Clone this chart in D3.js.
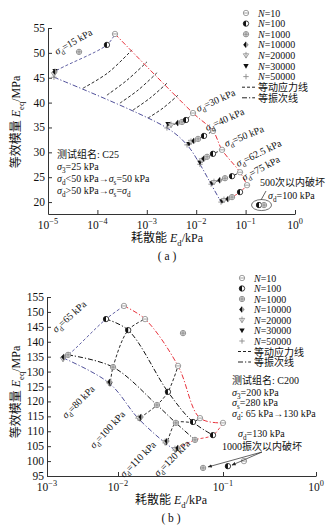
<!DOCTYPE html>
<html>
<head>
<meta charset="utf-8">
<script src="https://cdn.jsdelivr.net/npm/d3@7"></script>
<style>
  body { margin: 0; background: #fff; }
  svg text { font-family: "Liberation Serif", "Noto Sans CJK SC", serif; fill: #111; }
</style>
</head>
<body>
<script>
// vibration counts, one marker style per count
const nLevels = [10, 100, 1000, 10000, 20000, 30000, 50000];

// ---- (a) C25 : dissipated energy (kPa) and equivalent modulus (MPa), rows = sigma_d, cols = N
const aStress = ["15", "30", "40", "50", "62.5", "75"];
const aEd = [
  [2.27e-4, 1.56e-4, 4.25e-5, 1.39e-5, 1.32e-5, 1.39e-5, 1.32e-5],
  [8.62e-3, 6.22e-3, 5.16e-3, 4.28e-3, 3.09e-3, 2.69e-3, 2.56e-3],
  [2.19e-2, 1.44e-2, 1.09e-2, 9.02e-3, 7.85e-3, 7.15e-3, 6.52e-3],
  [3.33e-2, 2.19e-2, 1.66e-2, 1.44e-2, 1.31e-2, 1.19e-2, 1.19e-2],
  [7.71e-2, 5.31e-2, 3.83e-2, 3.03e-2, 2.29e-2, 2.09e-2, 2.00e-2],
  [0.107, 7.71e-2, 5.31e-2, 4.41e-2, 3.65e-2, 3.33e-2, 3.18e-2]
];
const aEeq = [
  [53.8, 51.6, 50.2, 46.2, 45.7, 46.4, 45.1],
  [37.9, 36.5, 36.1, 35.9, 35.5, 35.7, 34.9],
  [34.3, 33.3, 32.7, 32.3, 32.1, 31.7, 31.5],
  [30.5, 29.7, 29.1, 28.7, 28.4, 28.0, 27.6],
  [26.0, 25.2, 24.8, 24.4, 24.0, 23.8, 23.6],
  [23.4, 22.0, 21.0, 20.6, 20.4, 20.2, 20.0]
];
// points left off their equal-stress line: [row, col]
const aOffLine = [[0, 2]];
// intermediate equal-stress lines without test points
const aGuideEd = [
  [5.12e-5, 1.64e-4, 5.01e-4],
  [1.56e-4, 3.97e-4, 1.01e-3],
  [2.86e-4, 6.64e-4, 1.61e-3],
  [5.26e-4, 1.16e-3, 2.69e-3],
  [1.06e-3, 2.13e-3, 4.28e-3]
];
const aGuideEeq = [
  [42.9, 46.0, 50.6],
  [41.5, 44.5, 48.2],
  [39.9, 42.5, 46.0],
  [38.5, 40.9, 44.1],
  [36.9, 38.9, 41.5]
];
// sigma_d = 100 kPa, failed within 500 cycles
const aFailEd = [0.187, 0.236];
const aFailEeq = [19.4, 19.4];
const aFailN = [1, 2];
// equal-N lines drawn in (a)
const aNLines = [0, 6];

// ---- (b) C200
const bStress = ["65", "80", "100", "110", "120"];
const bEd = [
  [1.14e-2, 6.78e-3, 1.98e-3, 1.73e-3, 1.68e-3, 1.73e-3, 1.68e-3],
  [1.81e-2, 1.25e-2, 8.51e-3, 7.71e-3, 7.46e-3, 7.71e-3, 7.46e-3],
  [3.73e-2, 2.99e-2, 2.35e-2, 1.66e-2, 1.58e-2, 1.62e-2, 1.55e-2],
  [6.04e-2, 5.18e-2, 3.56e-2, 2.93e-2, 2.81e-2, 2.87e-2, 2.81e-2],
  [0.100, 8.03e-2, 5.41e-2, 3.73e-2, 3.49e-2, 3.56e-2, 3.49e-2]
];
const bEeq = [
  [152.0, 147.6, 135.6, 134.9, 134.2, 134.6, 134.6],
  [147.6, 143.9, 131.5, 126.5, 126.2, 125.8, 126.2],
  [131.9, 123.2, 118.8, 114.8, 114.4, 114.1, 114.4],
  [114.4, 113.1, 112.8, 106.7, 106.4, 106.1, 106.1],
  [112.8, 108.7, 107.1, 104.4, 104.0, 103.7, 103.7]
];
const bOffLine = [];
// sigma_d = 130 kPa, failed within 1000 cycles, plus one stray reading
const bFailEd = [6.46e-2, 0.113, 0.168];
const bFailEeq = [97.7, 98.3, 100.0];
const bFailN = [2, 1, 0];
const bStrayEd = [4.16e-2];
const bStrayEeq = [142.9];
const bNLines = [0, 1, 2, 6];

const W = 335, H = 529;
const svg = d3.select("body").append("svg").attr("width", W).attr("height", H);

const BLUE = "#50509a", RED = "#e8323c", GREY = "#8a8a8a";
const DASH = "3,2", DASHDOT = "5,2,1.2,2";

// text with italic / sub / sup pieces
function rich(text, parts, size) {
  let shift = 0;
  parts.forEach(p => {
    if (typeof p === "string") p = { t: p };
    const want = p.sub ? size * 0.3 : p.sup ? -size * 0.42 : 0;
    const ts = text.append("tspan").text(p.t).attr("dy", want - shift);
    shift = want;
    if (p.sub || p.sup) ts.attr("font-size", size * 0.72);
    if (p.it) ts.attr("font-style", "italic");
  });
  return text;
}
function label(g, x, y, parts, size, opts = {}) {
  const t = g.append("text").attr("x", x).attr("y", y).attr("font-size", size);
  if (opts.anchor) t.attr("text-anchor", opts.anchor);
  if (opts.rotate != null) t.attr("transform", `rotate(${opts.rotate},${x},${y})`);
  if (opts.bold) t.attr("font-weight", "bold");
  return rich(t, parts, size);
}

// marker for each vibration count
function marker(g, k, x, y) {
  const r = 2.7;
  const m = g.append("g").attr("transform", `translate(${x},${y})`);
  if (k === 0) {
    m.append("circle").attr("r", r).attr("fill", "#fff").attr("stroke", GREY).attr("stroke-width", 0.8);
    m.append("line").attr("x1", -r).attr("x2", r).attr("stroke", GREY).attr("stroke-width", 0.8);
  } else if (k === 1) {
    m.append("circle").attr("r", r).attr("fill", "#fff").attr("stroke", "#111").attr("stroke-width", 0.8);
    m.append("path").attr("d", `M0,${-r}A${r},${r} 0 0 0 0,${r}Z`).attr("fill", "#111");
  } else if (k === 2) {
    m.append("circle").attr("r", r).attr("fill", "#ddd").attr("stroke", GREY).attr("stroke-width", 0.8);
    m.append("path").attr("d", `M${-r},0H${r}M0,${-r}V${r}`).attr("stroke", "#777").attr("stroke-width", 0.7);
  } else if (k === 3) {
    m.append("path").attr("d", `M0,${-r - 0.5}L${r},0L0,${r + 0.5}L${-r},0Z`).attr("fill", "#999");
    m.append("path").attr("d", `M0,${-r - 0.5}L0,${r + 0.5}L${-r},0Z`).attr("fill", "#111");
  } else if (k === 4) {
    m.append("path").attr("d", `M${-r},${-r * 0.6}H${r}L0,${r}Z`).attr("fill", "#fff").attr("stroke", GREY).attr("stroke-width", 0.8);
    m.append("line").attr("y1", -r - 0.8).attr("y2", r).attr("stroke", GREY).attr("stroke-width", 0.8);
  } else if (k === 5) {
    m.append("path").attr("d", `M${-r},${-r * 0.7}H${r}L0,${r}Z`).attr("fill", "#111");
  } else {
    m.append("path").attr("d", `M${-r},0H${r}M0,${-r}V${r}`).attr("stroke", GREY).attr("stroke-width", 0.9);
  }
}

function legend(g, x, y, step) {
  nLevels.forEach((n, i) => {
    marker(g, i, x, y + i * step);
    label(g, x + 12, y + i * step + 3.5, [{ t: "N", it: true }, "=" + n], 10);
  });
  const y1 = y + 7 * step, y2 = y + 8 * step;
  g.append("line").attr("x1", x - 4).attr("x2", x + 9).attr("y1", y1).attr("y2", y1)
    .attr("stroke", "#222").attr("stroke-dasharray", DASH);
  g.append("line").attr("x1", x - 4).attr("x2", x + 9).attr("y1", y2).attr("y2", y2)
    .attr("stroke", "#222").attr("stroke-dasharray", DASHDOT);
  label(g, x + 12, y1 + 4, ["等动应力线"], 10);
  label(g, x + 12, y2 + 4, ["等振次线"], 10);
}

function drawPanel(p) {
  const g = svg.append("g");
  const x = p.x, y = p.y;
  const x0 = x.range()[0];
  const y0 = y.range()[0];

  // axes, ticks pointing inwards
  g.append("g").attr("transform", `translate(0,${y0})`)
    .call(d3.axisBottom(x).tickValues(p.xTicks).tickFormat(() => "").tickSizeInner(-4).tickSizeOuter(0))
    .call(a => a.selectAll("path,line").attr("stroke", "#333"));
  g.append("g").attr("transform", `translate(${x0},0)`)
    .call(d3.axisLeft(y).tickValues(p.yTicks).tickFormat(() => "").tickSizeInner(-4).tickSizeOuter(0))
    .call(a => a.selectAll("path,line").attr("stroke", "#333"));
  p.xTicks.forEach(v => {
    label(g, x(v), y0 + 15, ["10", { t: String(Math.round(Math.log10(v))).replace("-", "−"), sup: true }], 11.5, { anchor: "middle" });
  });
  p.yTicks.forEach(v => label(g, x0 - 3, y(v) + 4, [String(v)], 11.5, { anchor: "end" }));

  const pt = (s, k) => [x(p.ed[s][k]), y(p.eeq[s][k])];
  const line = d3.line().curve(d3.curveCatmullRom);
  const lastS = p.ed.length - 1, lastN = nLevels.length - 1;

  // equal-stress lines without points
  (p.guideEd || []).forEach((row, i) => {
    g.append("path").attr("d", line(row.map((e, j) => [x(e), y(p.guideEeq[i][j])])))
      .attr("fill", "none").attr("stroke", "#111").attr("stroke-width", 0.9).attr("stroke-dasharray", DASH);
  });
  // equal-stress lines: lowest stress blue, highest red
  p.ed.forEach((row, s) => {
    const ks = d3.range(nLevels.length).reverse().filter(k => !p.offLine.some(o => o[0] === s && o[1] === k));
    g.append("path").attr("d", line(ks.map(k => pt(s, k))))
      .attr("fill", "none").attr("stroke", s === 0 ? BLUE : s === lastS ? RED : "#111").attr("stroke-width", 0.9)
      .attr("stroke-dasharray", DASH);
  });
  // equal-N lines: N=10 red, N=50000 blue
  p.nLines.forEach(k => {
    g.append("path").attr("d", line(p.ed.map((r, s) => pt(s, k))))
      .attr("fill", "none").attr("stroke", k === 0 ? RED : k === lastN ? BLUE : "#111").attr("stroke-width", 1)
      .attr("stroke-dasharray", DASHDOT);
  });
  // test points
  p.ed.forEach((row, s) => d3.range(nLevels.length).reverse().forEach(k => {
    const [px, py] = pt(s, k);
    marker(g, k, px, py);
  }));
  p.failEd.forEach((e, i) => marker(g, p.failN[i], x(e), y(p.failEeq[i])));
  (p.strayEd || []).forEach((e, i) => marker(g, 2, x(e), y(p.strayEeq[i])));

  // axis titles
  label(g, 20, p.yTitleAt, ["等效模量 ", { t: "E", it: true }, { t: "eq", sub: true }, "/MPa"], 12, { anchor: "middle", rotate: -90 });
  label(g, p.xTitleAt, y0 + 28, ["耗散能 ", { t: "E", it: true }, { t: "d", sub: true }, "/kPa"], 12, { anchor: "middle" });
  label(g, p.xTitleAt, y0 + 46, [p.tag], 11.5, { anchor: "middle" });
  return g;
}

// ---------- (a)
const xa = d3.scaleLog().domain([1e-5, 1]).range([48, 295]);
const ya = d3.scaleLinear().domain([17.6, 55]).range([214, 28]);
const ga = drawPanel({
  x: xa, y: ya, ed: aEd, eeq: aEeq, offLine: aOffLine, nLines: aNLines,
  guideEd: aGuideEd, guideEeq: aGuideEeq,
  failEd: aFailEd, failEeq: aFailEeq, failN: aFailN,
  xTicks: [1e-5, 1e-4, 1e-3, 1e-2, 1e-1, 1], yTicks: [20, 25, 30, 35, 40, 45, 50, 55],
  yTitleAt: 122, xTitleAt: 167, tag: "( a )"
});
legend(ga, 246, 13, 10.6);
label(ga, 57, 158, ["测试组名: C25"], 10);
label(ga, 57, 170, [{ t: "σ", it: true }, { t: "3", sub: true }, "=25 kPa"], 10);
label(ga, 57, 182, [{ t: "σ", it: true }, { t: "d", sub: true }, "<50 kPa→", { t: "σ", it: true }, { t: "s", sub: true }, "=50 kPa"], 10);
label(ga, 57, 194, [{ t: "σ", it: true }, { t: "d", sub: true }, ">50 kPa→", { t: "σ", it: true }, { t: "s", sub: true }, "=", { t: "σ", it: true }, { t: "d", sub: true }], 10);
const aLab = [[57, 55, -30], [198, 112, -24], [207, 131, -24], [226, 147, -22], [238, 167, -26], [244, 181, -28]];
aStress.forEach((s, i) => {
  const [lx, ly, rot] = aLab[i];
  label(ga, lx, ly, [{ t: "σ", it: true }, { t: "d", sub: true }, "=" + s + " kPa"], 10, { rotate: rot });
});
label(ga, 260, 186, ["500次以内破坏"], 10);
label(ga, 268, 199, [{ t: "σ", it: true }, { t: "d", sub: true }, "=100 kPa"], 10);
ga.append("line").attr("x1", 266).attr("y1", 191).attr("x2", 261).attr("y2", 200).attr("stroke", "#222").attr("stroke-width", 0.7);
ga.append("ellipse").attr("cx", (xa(aFailEd[0]) + xa(aFailEd[1])) / 2).attr("cy", ya(aFailEeq[0]))
  .attr("rx", 10).attr("ry", 5.5).attr("fill", "none").attr("stroke", "#333").attr("stroke-width", 0.7);

// ---------- (b)
const xb = d3.scaleLog().domain([1e-3, 1e-2, 1e-1, 1]).range([47, 118, 223, 316]);
const yb = d3.scaleLinear().domain([95, 155]).range([476, 297]);
const gb = drawPanel({
  x: xb, y: yb, ed: bEd, eeq: bEeq, offLine: bOffLine, nLines: bNLines,
  failEd: bFailEd, failEeq: bFailEeq, failN: bFailN, strayEd: bStrayEd, strayEeq: bStrayEeq,
  xTicks: [1e-3, 1e-2, 1e-1, 1], yTicks: d3.range(95, 156, 5),
  yTitleAt: 392, xTitleAt: 171, tag: "( b )"
});
legend(gb, 242, 278, 10.5);
label(gb, 232, 384, ["测试组名: C200"], 10);
label(gb, 232, 396, [{ t: "σ", it: true }, { t: "3", sub: true }, "=200 kPa"], 10);
label(gb, 232, 406, [{ t: "σ", it: true }, { t: "s", sub: true }, "=280 kPa"], 10);
label(gb, 232, 417, [{ t: "σ", it: true }, { t: "d", sub: true }, ": 65 kPa→130 kPa"], 10);
const bLab = [[56, 333, -42], [66, 419, -45], [94, 449, -47], [124, 478, -45], [158, 477, -45]];
bStress.forEach((s, i) => {
  const [lx, ly, rot] = bLab[i];
  label(gb, lx, ly, [{ t: "σ", it: true }, { t: "d", sub: true }, "=" + s + " kPa"], 10, { rotate: rot });
});
label(gb, 238, 437, [{ t: "σ", it: true }, { t: "d", sub: true }, "=130 kPa"], 10);
label(gb, 222, 450, ["1000振次以内破坏"], 10);
svg.append("defs").append("marker").attr("id", "arr").attr("viewBox", "0 0 10 10")
  .attr("refX", 9).attr("refY", 5).attr("markerWidth", 6).attr("markerHeight", 6).attr("orient", "auto")
  .append("path").attr("d", "M0,1L10,5L0,9Z").attr("fill", "#222");
[[0, 5], [1, 4]].forEach(([i, off]) => {
  gb.append("line").attr("x1", 262).attr("y1", 452)
    .attr("x2", xb(bFailEd[i]) + off).attr("y2", yb(bFailEeq[i]) - 1)
    .attr("stroke", "#222").attr("stroke-width", 0.7).attr("marker-end", "url(#arr)");
});
</script>
</body>
</html>
